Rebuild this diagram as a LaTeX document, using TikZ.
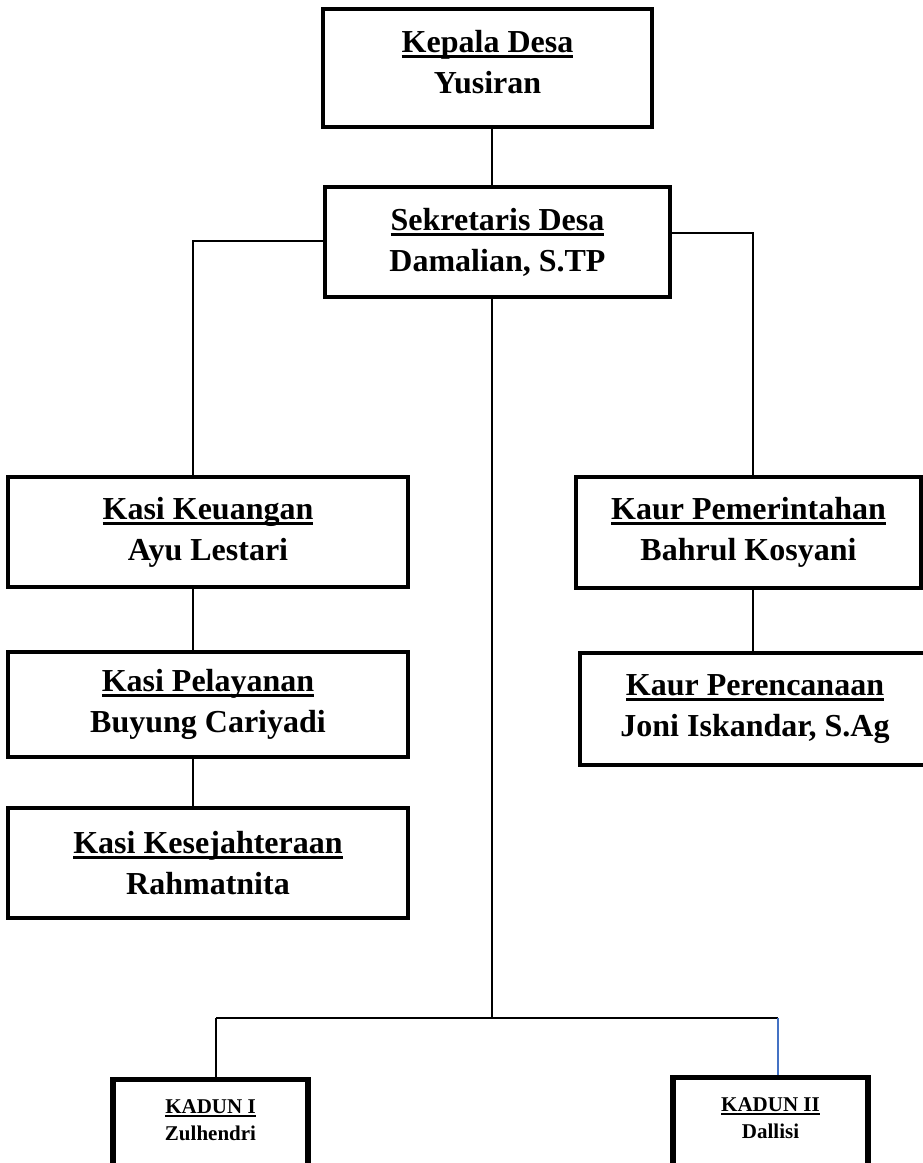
\documentclass[tikz,border=0pt]{standalone}
\usepackage{fontspec}
\setmainfont{Liberation Serif}
\usetikzlibrary{positioning}
\definecolor{kadunblue}{RGB}{68,114,196}
\newsavebox\hdrbox
\newcommand{\hdr}[1]{\sbox\hdrbox{#1}\rlap{\rule[-0.17em]{\wd\hdrbox}{0.09em}}\usebox\hdrbox}

\begin{document}
\begin{tikzpicture}[
    x=1pt, y=-1pt,
    office/.style={rectangle, draw, line width=4pt, minimum width=400pt, minimum height=110pt, inner sep=0pt, align=center, font=\fontsize{32}{41}\selectfont\bfseries},
    dusun/.style={rectangle, draw, line width=5.5pt, minimum width=195pt, anchor=north, inner xsep=0pt, inner ysep=20pt, align=center, font=\fontsize{21}{27}\selectfont\bfseries},
    link/.style={line width=2pt}
]
    \useasboundingbox (0,0) rectangle (923,1163);
    \clip (0,0) rectangle (923,1163);

    % Top
    \node[office, minimum width=329pt, minimum height=118pt] (kepala) at (487.5,68) {\hdr{Kepala Desa}\\Yusiran\rule[-12pt]{0pt}{0pt}};
    \node[office, minimum width=345pt] (sekdes) at (497.5,242) {\hdr{Sekretaris Desa}\\Damalian, S.TP};

    % Left column
    \node[office] (keuangan) at (208,532) {\hdr{Kasi Keuangan}\\Ayu Lestari};
    \node[office, minimum height=105pt, below=61pt of keuangan] (pelayanan) {\hdr{Kasi Pelayanan}\\Buyung Cariyadi};
    \node[office, below=47pt of pelayanan] (sejahtera) {\hdr{Kasi Kesejahteraan}\\Rahmatnita};

    % Right column
    \node[office, minimum width=345pt, minimum height=111pt] (pemerintahan) at (748.5,532.5) {\hdr{Kaur Pemerintahan}\\Bahrul Kosyani};
    \node[office, minimum width=350pt, minimum height=112pt, below=61pt of pemerintahan, xshift=6.5pt] (perencanaan) {\hdr{Kaur Perencanaan}\\Joni Iskandar, S.Ag};

    % Kadun
    \node[dusun] (kadun1) at (210.5,1076.5) {\hdr{KADUN I}\\Zulhendri\rule[-80pt]{0pt}{0pt}};
    \node[dusun] (kadun2) at (770.5,1074.5) {\hdr{KADUN II}\\Dallisi\rule[-80pt]{0pt}{0pt}};

    % Connectors
    \coordinate (spine) at (492,1018);
    \coordinate (lcol) at (193,241);
    \coordinate (rcol) at (753,233);
    \coordinate (busl) at (216,1018);
    \coordinate (busr) at (778,1018);

    \draw[link] (kepala.south -| spine) -- (sekdes.north -| spine);
    \draw[link] (sekdes.south -| spine) -- (spine);
    \draw[link] (sekdes.west |- lcol) -| (keuangan.north -| lcol);
    \draw[link] (keuangan.south -| lcol) -- (pelayanan.north -| lcol);
    \draw[link] (pelayanan.south -| lcol) -- (sejahtera.north -| lcol);
    \draw[link] (sekdes.east |- rcol) -| (pemerintahan.north -| rcol);
    \draw[link] (pemerintahan.south -| rcol) -- (perencanaan.north -| rcol);
    \draw[link, line width=2.5pt] (busl) -- (busr);
    \draw[link] (busl) -- (kadun1.north -| busl);
    \draw[link, kadunblue] (busr) -- (kadun2.north -| busr);
\end{tikzpicture}
\end{document}
